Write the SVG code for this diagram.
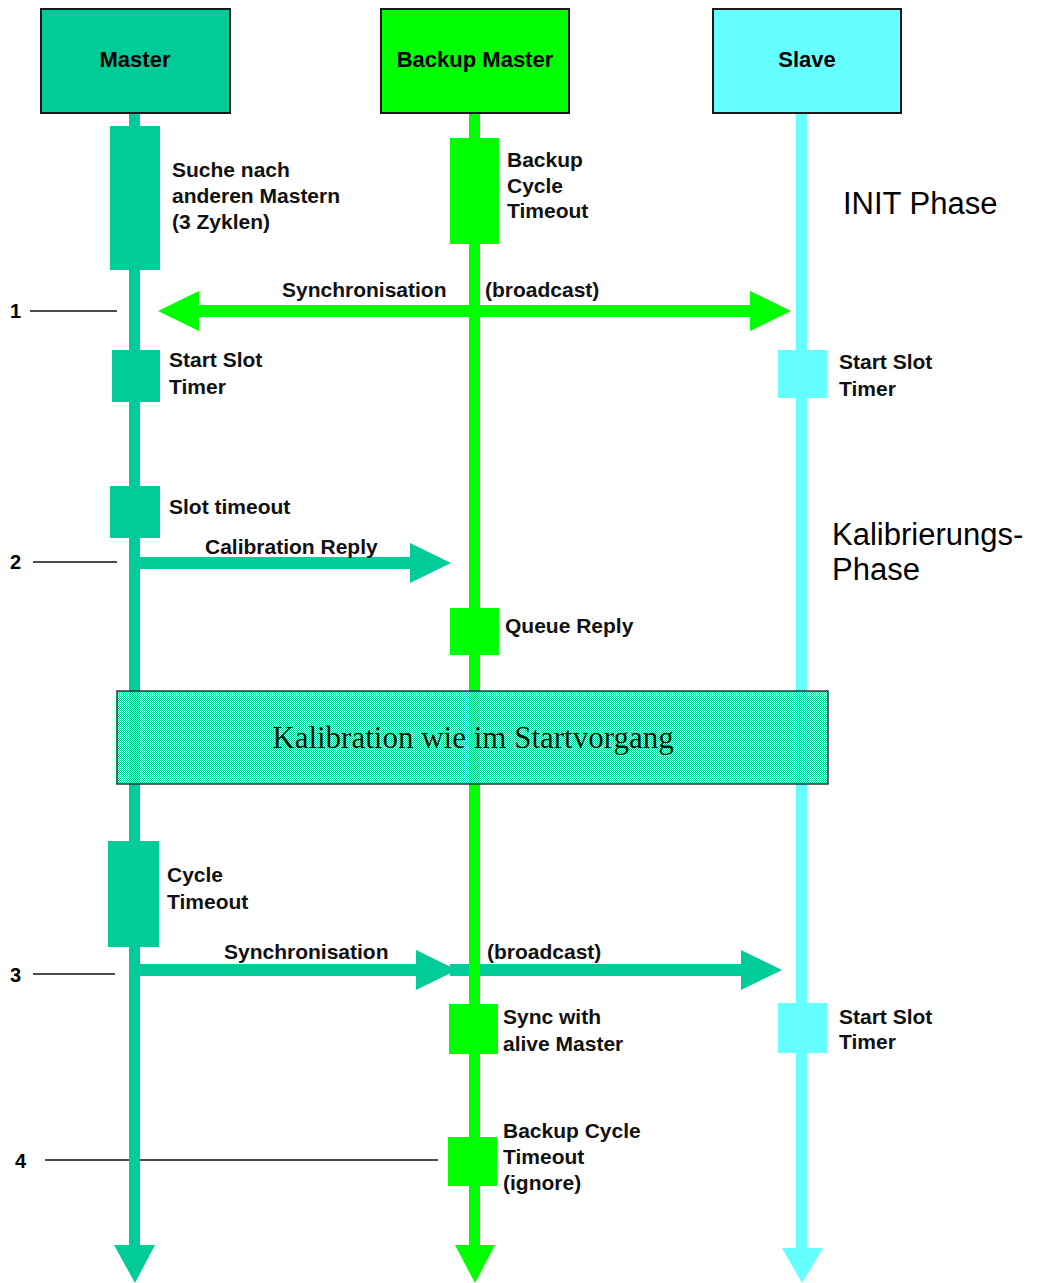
<svg xmlns="http://www.w3.org/2000/svg" width="1046" height="1283" viewBox="0 0 1046 1283">
  <style>
    .hdr { stroke: #1a1a1a; stroke-width: 2; }
    .hdrtxt { font-family: "Liberation Sans", Arial, sans-serif; font-weight: bold; font-size: 22px; text-anchor: middle; fill: #000; }
    .lbl { font-family: "Liberation Sans", Arial, sans-serif; font-weight: bold; font-size: 21px; fill: #111; }
    .phase { font-family: "Liberation Sans", Arial, sans-serif; font-size: 31px; fill: #000; }
    .num { font-family: "Liberation Sans", Arial, sans-serif; font-weight: bold; font-size: 20px; fill: #000; }
    .tick { stroke: #111; stroke-width: 1.5; }
    .teal { fill: #00CC99; }
    .green { fill: #00FF00; }
    .cyan { fill: #66FFFF; }
  </style>
  <defs>
    <!-- 2x2 dither used for the shaded calibration band -->
    <pattern id="dither" width="2" height="2" patternUnits="userSpaceOnUse">
      <rect x="0" y="0" width="1" height="1" fill="#00CC99"/>
      <rect x="1" y="1" width="1" height="1" fill="#00CC99"/>
      <rect x="1" y="0" width="1" height="1" fill="#ffffff" fill-opacity="0.55"/>
      <rect x="0" y="1" width="1" height="1" fill="#ffffff" fill-opacity="0.55"/>
    </pattern>
  </defs>

  <rect width="1046" height="1283" fill="#ffffff"/>

  <!-- messages and step markers -->
  <g id="connectors">
    <!-- step 1: synchronisation broadcast (both directions) -->
    <polygon class="green" points="158,311 199,291 199,305 750,305 750,291 791,311 750,331 750,317 199,317 199,331"/>
    <!-- step 2: calibration reply -->
    <polygon class="teal" points="139,557 410,557 410,543 451,563 410,583 410,569 139,569"/>
    <!-- step 3: synchronisation broadcast -->
    <polygon class="teal" points="139,964 416,964 416,950 457,970 416,990 416,976 139,976"/>
    <polygon class="teal" points="450,964 741,964 741,950 782,970 741,990 741,976 450,976"/>

    <line class="tick" x1="30" y1="311" x2="117" y2="311"/>
    <line class="tick" x1="33" y1="562" x2="117" y2="562"/>
    <line class="tick" x1="33" y1="974" x2="115" y2="974"/>
    <line class="tick" x1="45" y1="1160" x2="438" y2="1160"/>
    <text class="num" x="10" y="318">1</text>
    <text class="num" x="10" y="569">2</text>
    <text class="num" x="10" y="982">3</text>
    <text class="num" x="15" y="1168">4</text>

    <text class="lbl" x="282" y="297">Synchronisation</text>
    <text class="lbl" x="485" y="297">(broadcast)</text>
    <text class="lbl" x="205" y="554">Calibration Reply</text>
    <text class="lbl" x="224" y="959">Synchronisation</text>
    <text class="lbl" x="487" y="959">(broadcast)</text>
  </g>

  <!-- Master -->
  <g id="master">
    <rect class="teal" x="129" y="113" width="11" height="1133"/>
    <polygon class="teal" points="114,1245 155,1245 135,1283"/>
    <rect class="teal hdr" x="41" y="9" width="189" height="104"/>
    <text class="hdrtxt" x="135" y="67">Master</text>
    <rect class="teal" x="110" y="126" width="50" height="144"/>
    <rect class="teal" x="112" y="350" width="48" height="52"/>
    <rect class="teal" x="110" y="486" width="50" height="52"/>
    <rect class="teal" x="108" y="841" width="51" height="106"/>
    <text class="lbl" x="172" y="177">Suche nach</text>
    <text class="lbl" x="172" y="203">anderen Mastern</text>
    <text class="lbl" x="172" y="229">(3 Zyklen)</text>
    <text class="lbl" x="169" y="367">Start Slot</text>
    <text class="lbl" x="169" y="394">Timer</text>
    <text class="lbl" x="169" y="514">Slot timeout</text>
    <text class="lbl" x="167" y="882">Cycle</text>
    <text class="lbl" x="167" y="909">Timeout</text>
  </g>

  <!-- Backup Master -->
  <g id="backup-master">
    <rect class="green" x="469" y="113" width="11" height="1133"/>
    <polygon class="green" points="455,1245 495,1245 475,1283"/>
    <rect class="green hdr" x="381" y="9" width="188" height="104"/>
    <text class="hdrtxt" x="475" y="67">Backup Master</text>
    <rect class="green" x="450" y="138" width="49" height="106"/>
    <rect class="green" x="450" y="608" width="49" height="47"/>
    <rect class="green" x="449" y="1004" width="49" height="50"/>
    <rect class="green" x="448" y="1137" width="49" height="49"/>
    <text class="lbl" x="507" y="167">Backup</text>
    <text class="lbl" x="507" y="193">Cycle</text>
    <text class="lbl" x="507" y="218">Timeout</text>
    <text class="lbl" x="505" y="633">Queue Reply</text>
    <text class="lbl" x="503" y="1024">Sync with</text>
    <text class="lbl" x="503" y="1051">alive Master</text>
    <text class="lbl" x="503" y="1138">Backup Cycle</text>
    <text class="lbl" x="503" y="1164">Timeout</text>
    <text class="lbl" x="503" y="1190">(ignore)</text>
  </g>

  <!-- Slave -->
  <g id="slave">
    <rect class="cyan" x="796" y="113" width="11" height="1136"/>
    <polygon class="cyan" points="782,1248 823,1248 802,1283"/>
    <rect class="cyan hdr" x="713" y="9" width="188" height="104"/>
    <text class="hdrtxt" x="807" y="67">Slave</text>
    <rect class="cyan" x="778" y="350" width="49" height="48"/>
    <rect class="cyan" x="778" y="1003" width="49" height="50"/>
    <text class="lbl" x="839" y="369">Start Slot</text>
    <text class="lbl" x="839" y="396">Timer</text>
    <text class="lbl" x="839" y="1024">Start Slot</text>
    <text class="lbl" x="839" y="1049">Timer</text>
  </g>

  <!-- phase captions -->
  <g id="phases">
    <text class="phase" x="843" y="214">INIT Phase</text>
    <text class="phase" x="832" y="545">Kalibrierungs-</text>
    <text class="phase" x="832" y="580">Phase</text>
  </g>

  <!-- shaded calibration band across all lifelines -->
  <g id="calibration">
    <rect x="117" y="691" width="711" height="93" fill="url(#dither)" stroke="#333" stroke-width="1.5"/>
    <text x="473" y="748" font-family="'Liberation Serif', 'Times New Roman', serif" font-size="31" text-anchor="middle" fill="#111">Kalibration wie im Startvorgang</text>
  </g>
</svg>
